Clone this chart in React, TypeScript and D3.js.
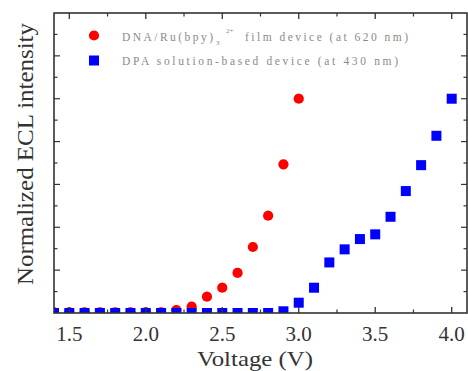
import React from "react";
import * as d3 from "d3";

const voltages = [1.4, 1.5, 1.6, 1.7, 1.8, 1.9, 2.0, 2.1, 2.2, 2.3, 2.4, 2.5, 2.6, 2.7, 2.8, 2.9, 3.0, 3.1, 3.2, 3.3, 3.4, 3.5, 3.6, 3.7, 3.8, 3.9, 4.0];
const redVoltages = voltages.slice(0, 17);
const redValues = [0.003, 0.003, 0.003, 0.003, 0.003, 0.003, 0.003, 0.003, 0.014, 0.03, 0.076, 0.118, 0.187, 0.308, 0.454, 0.694, 1.0];
const blueValues = [0, 0, 0, 0, 0, 0, 0, 0, 0, 0, 0, 0, 0, 0, 0, 0.008, 0.048, 0.118, 0.236, 0.297, 0.345, 0.367, 0.449, 0.569, 0.69, 0.827, 1.0];
const xTickLabels = ["1.5", "2.0", "2.5", "3.0", "3.5", "4.0"];

const W = 468, H = 371;
const left = 54, right = 467, top = 13, bottom = 313;

export default function App() {
  const x = d3.scaleLinear().domain([1.4, 4.1]).range([left, right]);
  const y = d3.scaleLinear().domain([0, 1.4]).range([bottom, top]);
  const xMajor = xTickLabels.map(Number);
  const xMinor = d3.range(1.5, 4.1, 0.25).filter((v) => Math.abs((v * 2) % 1) > 0.01);
  const yAll = d3.range(0.1, 1.4, 0.1);
  const frame = "#333";
  const legendColor = "#8a8a8a";
  const sym = d3.symbol().type(d3.symbolCircle).size(82);
  return (
    <svg width={W} height={H} style={{ position: "absolute", left: 0, top: 0, background: "#fff" }}>
      <g clipPath="url(#clip)">
        <clipPath id="clip">
          <rect x={left} y={top - 8} width={right - left} height={bottom - top + 8} />
        </clipPath>
        {redVoltages.map((v, i) => (
          <path key={"r" + i} d={sym() as string} transform={`translate(${x(v)},${y(redValues[i])})`} fill="#f00" />
        ))}
        {voltages.map((v, i) => (
          <rect key={"b" + i} x={x(v) - 5} y={y(blueValues[i]) - 5} width={10} height={10} fill="#0000ff" />
        ))}
      </g>
      {xMajor.map((v) => (
        <g key={"xm" + v}>
          <line x1={x(v)} x2={x(v)} y1={bottom} y2={bottom - 6} stroke={frame} strokeWidth={1.3} />
          <line x1={x(v)} x2={x(v)} y1={top} y2={top + 6} stroke={frame} strokeWidth={1.3} />
        </g>
      ))}
      {xMinor.map((v) => (
        <g key={"xn" + v}>
          <line x1={x(v)} x2={x(v)} y1={bottom} y2={bottom - 3.5} stroke={frame} strokeWidth={1.2} />
          <line x1={x(v)} x2={x(v)} y1={top} y2={top + 3.5} stroke={frame} strokeWidth={1.2} />
        </g>
      ))}
      {yAll.map((v, i) => {
        const len = i % 2 === 1 ? 6 : 3.5;
        return (
          <g key={"y" + i}>
            <line x1={left} x2={left + len} y1={y(v)} y2={y(v)} stroke={frame} strokeWidth={1.2} />
            <line x1={right} x2={right - len} y1={y(v)} y2={y(v)} stroke={frame} strokeWidth={1.2} />
          </g>
        );
      })}
      <rect x={left} y={top} width={right - left} height={bottom - top} fill="none" stroke={frame} strokeWidth={1.6} />
      {xTickLabels.map((t) => (
        <text key={t} x={x(+t)} y={341} textAnchor="middle" fontFamily="Liberation Serif" fontSize={21} fill="#333">
          {t}
        </text>
      ))}
      <text x={197} y={366} textLength={116} lengthAdjust="spacingAndGlyphs" fontFamily="Liberation Serif" fontSize={22} fill="#333">
        Voltage (V)
      </text>
      <text transform="translate(33,285) rotate(-90)" textLength={262} lengthAdjust="spacingAndGlyphs" fontFamily="Liberation Serif" fontSize={23} fill="#333">
        Normalized ECL intensity
      </text>
      {/* legend */}
      <path d={sym() as string} transform="translate(94,35.5)" fill="#f00" />
      <rect x={89} y={55.5} width={10} height={10} fill="#0000ff" />
      <g fontFamily="Liberation Serif" fill={legendColor}>
        <text x={122} y={41} fontSize={11.5} textLength={91}>DNA/Ru(bpy)</text>
        <text x={216} y={45} fontSize={7}>3</text>
        <text x={226} y={33} fontSize={7}>2+</text>
        <text x={245} y={41} fontSize={11.5} textLength={163}>film device (at 620 nm)</text>
        <text x={122} y={65} fontSize={11.5} textLength={276}>DPA solution-based device (at 430 nm)</text>
      </g>
    </svg>
  );
}
